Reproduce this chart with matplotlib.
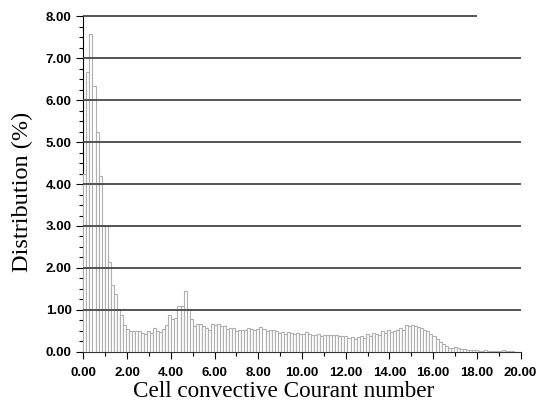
import numpy as np
import matplotlib.pyplot as plt
from matplotlib.ticker import MultipleLocator, FormatStrFormatter

# histogram of cell convective Courant number, 144 bins over 0..20
x_min = 0.0
x_max = 20.0
distribution = [
    4.25, 6.67, 7.57, 6.34, 5.23, 4.19, 3.00, 3.00, 2.15, 1.60,
    1.37, 1.02, 0.87, 0.65, 0.54, 0.51, 0.51, 0.51, 0.49, 0.46,
    0.42, 0.49, 0.45, 0.58, 0.51, 0.47, 0.54, 0.65, 0.87, 0.78,
    0.80, 1.10, 1.10, 1.46, 1.02, 0.78, 0.63, 0.66, 0.66, 0.62,
    0.58, 0.52, 0.67, 0.64, 0.67, 0.62, 0.61, 0.54, 0.58, 0.57,
    0.50, 0.52, 0.53, 0.53, 0.58, 0.55, 0.52, 0.55, 0.59, 0.54,
    0.49, 0.53, 0.53, 0.49, 0.46, 0.48, 0.44, 0.47, 0.45, 0.44,
    0.45, 0.42, 0.43, 0.47, 0.42, 0.40, 0.40, 0.42, 0.38, 0.40,
    0.40, 0.40, 0.40, 0.40, 0.37, 0.37, 0.38, 0.34, 0.35, 0.32,
    0.36, 0.38, 0.34, 0.42, 0.38, 0.45, 0.44, 0.40, 0.49, 0.45,
    0.52, 0.48, 0.50, 0.53, 0.56, 0.52, 0.64, 0.62, 0.64, 0.62,
    0.59, 0.56, 0.52, 0.50, 0.44, 0.38, 0.30, 0.23, 0.18, 0.14,
    0.10, 0.10, 0.12, 0.09, 0.08, 0.07, 0.05, 0.05, 0.04, 0.04,
    0.03, 0.03, 0.04, 0.03, 0.03, 0.02, 0.03, 0.02, 0.04, 0.03,
    0.02, 0.02, 0.01, 0.01,
]
grid_levels = [1, 2, 3, 4, 5, 6, 7, 8]
grid_ends = [20, 20, 20, 20, 20, 20, 20, 18]

x_label = "Cell convective Courant number"
y_label = "Distribution (%)"


def main():
    n_bins = len(distribution)
    edges = np.linspace(x_min, x_max, n_bins + 1)
    width = edges[1] - edges[0]

    fig = plt.figure(figsize=(5.38, 4.11), dpi=100)
    ax = fig.add_axes([0.155, 0.1436, 0.8125, 0.8174])

    ax.bar(edges[:-1], distribution, width=width, align="edge",
           facecolor="white", edgecolor="#b0b0b0", linewidth=0.8, zorder=3)

    for level, end in zip(grid_levels, grid_ends):
        ax.hlines(level, x_min, end, colors="#464646", linewidth=1.3,
                  zorder=4, clip_on=False)

    ax.set_xlim(x_min, x_max)
    ax.set_ylim(0, 8)

    ax.spines["top"].set_visible(False)
    ax.spines["right"].set_visible(False)
    ax.spines["left"].set_color("black")
    ax.spines["bottom"].set_color("#333333")

    ax.xaxis.set_major_locator(MultipleLocator(2))
    ax.xaxis.set_minor_locator(MultipleLocator(1))
    ax.yaxis.set_major_locator(MultipleLocator(1))
    ax.yaxis.set_minor_locator(MultipleLocator(0.25))
    ax.xaxis.set_major_formatter(FormatStrFormatter("%.2f"))
    ax.yaxis.set_major_formatter(FormatStrFormatter("%.2f"))
    ax.tick_params(which="major", length=5, width=0.8, direction="out")
    ax.tick_params(which="minor", length=3, width=0.8, direction="out")
    ax.tick_params(axis="x", pad=6)

    for label in ax.get_xticklabels() + ax.get_yticklabels():
        label.set_fontfamily("Liberation Sans")
        label.set_fontweight("bold")
        label.set_fontsize(9.5)

    ax.set_xlabel(x_label, fontfamily="Liberation Serif", fontsize=16.7, labelpad=3)
    ax.set_ylabel(y_label, fontfamily="Liberation Serif", fontsize=17.5, labelpad=9)
    ax.xaxis.set_label_coords(0.459, -0.085)
    ax.yaxis.label.set_y(0.476)

    fig.savefig("out.png", dpi=100)


if __name__ == "__main__":
    main()
